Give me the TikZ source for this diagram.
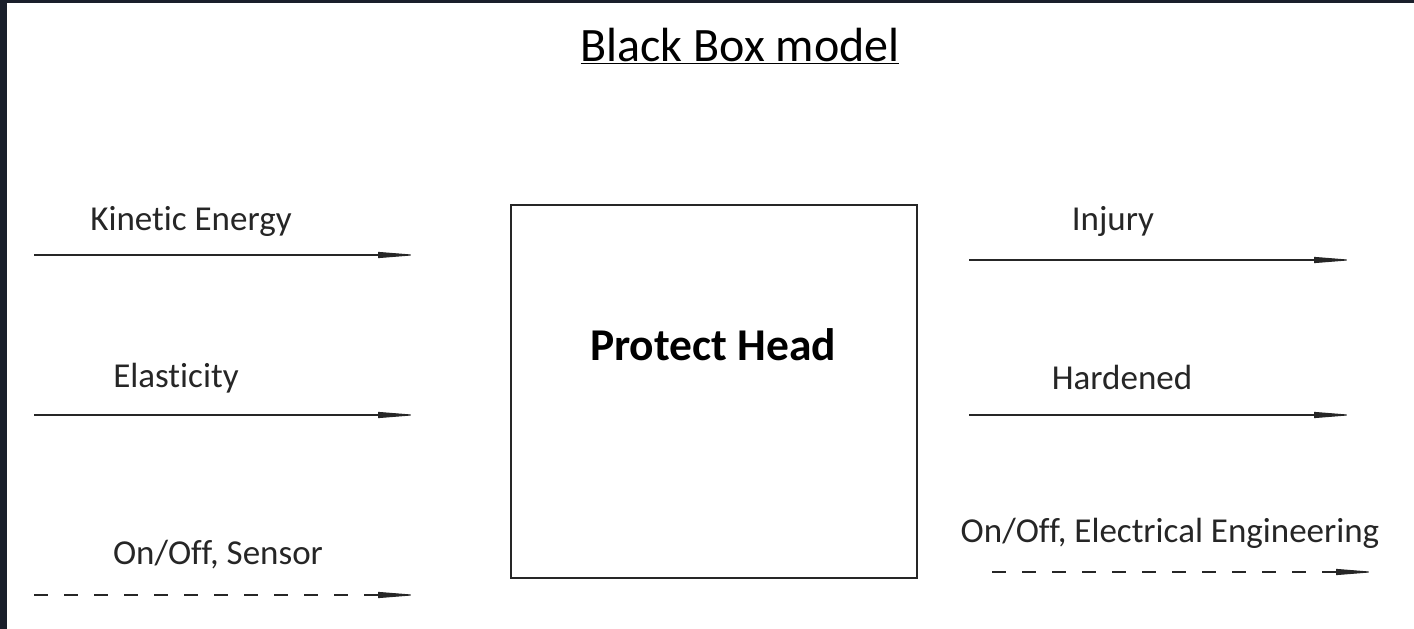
\documentclass[tikz,border=0pt]{standalone}
\usepackage{fontspec}
\setmainfont[Ligatures=NoCommon]{Carlito}
\usetikzlibrary{arrows.meta}
\definecolor{frame}{HTML}{1A1F2B}
\begin{document}
\begin{tikzpicture}[x=1pt,y=-1pt,
  flow/.style={line width=1.1pt,draw=black!85,-{Triangle[length=40pt,width=6pt]}},
  dflow/.style={flow,dash pattern=on 14pt off 16pt},
  lbl/.style={font=\fontsize{35}{40}\selectfont,text=black!85,inner sep=0pt},
]
\useasboundingbox (0,0) rectangle (1414,629);
\fill[white] (0,0) rectangle (1414,629);
\fill[frame] (0,0) rectangle (7,629);
\fill[frame] (0,0) rectangle (1414,3);
% title
\node[inner sep=0pt,font=\fontsize{48}{54}\selectfont] (title) at (740,46) {\underline{Black Box model}};
% box
\node[draw=black!85,line width=1.5pt,minimum width=406pt,minimum height=373pt,inner sep=0pt] (box) at (714,391.5) {};
\node[inner sep=0pt,font=\bfseries\fontsize{45.5}{50}\selectfont] (ph) at (713,345) {Protect Head};
% left inputs
\coordinate (l1a) at (34,255); \coordinate (l1b) at (418,255);
\coordinate (l2a) at (34,415); \coordinate (l2b) at (418,415);
\coordinate (l3a) at (34,595); \coordinate (l3b) at (418,595);
\draw[flow] (l1a) -- (l1b);
\draw[flow] (l2a) -- (l2b);
\draw[dflow] (l3a) -- (l3b);
\node[lbl] (ke) at (191,221) {Kinetic Energy};
\node[lbl] (el) at (176,378) {Elasticity};
\node[lbl] (ons) at (218,555) {On/Off, Sensor};
% right outputs
\coordinate (r1a) at (969,260); \coordinate (r1b) at (1354,260);
\coordinate (r2a) at (969,415); \coordinate (r2b) at (1354,415);
\coordinate (r3a) at (992,572); \coordinate (r3b) at (1376,572);
\draw[flow] (r1a) -- (r1b);
\draw[flow] (r2a) -- (r2b);
\draw[dflow] (r3a) -- (r3b);
\node[lbl] (inj) at (1113,221) {Injury};
\node[lbl] (hd) at (1122,377) {Hardened};
\node[lbl] (one) at (1170,533) {On/Off, Electrical Engineering};
\end{tikzpicture}
\end{document}
